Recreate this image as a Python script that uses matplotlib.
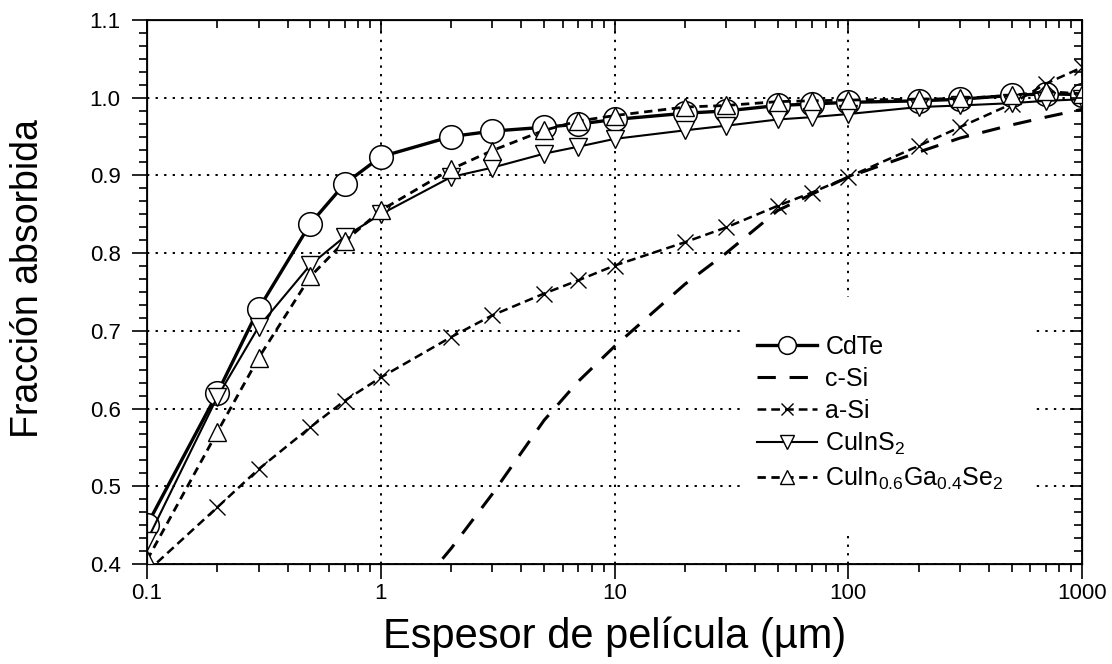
import matplotlib
matplotlib.use("Agg")
import matplotlib.pyplot as plt
from matplotlib.ticker import AutoMinorLocator, NullFormatter
from matplotlib.patches import Rectangle

plt.rcParams['font.family'] = ['Liberation Sans', 'DejaVu Sans']
plt.rcParams['mathtext.default'] = 'regular'

# espesor (um)
espesor = [0.1, 0.2, 0.3, 0.5, 0.7, 1, 2, 3, 5, 7, 10, 20, 30, 50, 70,
           100, 200, 300, 500, 700, 1000]

cdte = [0.45, 0.62, 0.728, 0.838, 0.889, 0.924, 0.950, 0.957, 0.962, 0.966,
        0.972, 0.980, 0.983, 0.990, 0.992, 0.994, 0.996, 0.998, 1.003, 1.005, 1.004]
cuins2 = [0.43, 0.615, 0.705, 0.785, 0.821, 0.850, 0.898, 0.910, 0.928, 0.937,
          0.947, 0.958, 0.964, 0.972, 0.975, 0.979, 0.988, 0.990, 0.993, 0.996, 0.998]
cigs = [0.405, 0.57, 0.665, 0.770, 0.815, 0.855, 0.908, 0.932, 0.958, 0.970,
        0.977, 0.988, 0.990, 0.995, 0.996, 0.997, 0.998, 0.999, 1.003, 1.008, 1.005]
asi = [0.39, 0.473, 0.522, 0.576, 0.610, 0.640, 0.692, 0.720, 0.748, 0.765,
       0.784, 0.814, 0.833, 0.861, 0.878, 0.898, 0.938, 0.962, 0.992, 1.018, 1.039]

# c-Si sin marcadores
espesor_csi = [1.5, 2, 3, 5, 7, 10, 20, 30, 50, 70, 100, 200, 300, 500, 700, 1000]
csi = [0.375, 0.42, 0.49, 0.585, 0.635, 0.68, 0.76, 0.80, 0.855, 0.876,
       0.898, 0.930, 0.948, 0.965, 0.975, 0.985]

x_ticks = [0.1, 1, 10, 100, 1000]
x_labels = ["0.1", "1", "10", "100", "1000"]
y_ticks = [0.4, 0.5, 0.6, 0.7, 0.8, 0.9, 1.0, 1.1]

fig = plt.figure(figsize=(11.12, 6.64), dpi=100)
ax = fig.add_axes([147 / 1112, 1 - 564 / 664, 935 / 1112, 544 / 664])
ax.set_axisbelow(True)

ax.plot(espesor, cdte, color='black', lw=2.4, marker='o', ms=17,
        mfc='white', mec='black', mew=1.1, label='CdTe', zorder=3)
ax.plot(espesor_csi, csi, color='black', lw=2.2, linestyle=(0, (6, 4.5)),
        label='c-Si', zorder=3)
ax.plot(espesor, asi, color='black', lw=1.8, linestyle=(0, (3.5, 2)),
        marker='x', ms=12, mew=1.0, label='a-Si', zorder=3)
ax.plot(espesor, cuins2, color='black', lw=1.5, marker='v', ms=13,
        mfc='white', mec='black', mew=1.0, label='CuInS$_2$', zorder=4)
ax.plot(espesor, cigs, color='black', lw=2.0, linestyle=(0, (3, 2)),
        marker='^', ms=13, mfc='white', mec='black', mew=1.0,
        label='CuIn$_{0.6}$Ga$_{0.4}$Se$_2$', zorder=5)

ax.set_xscale('log')
ax.set_xlim(0.1, 1000)
ax.set_ylim(0.4, 1.1)
ax.set_xticks(x_ticks)
ax.set_xticklabels(x_labels)
ax.xaxis.set_minor_formatter(NullFormatter())
ax.set_yticks(y_ticks)
ax.set_yticklabels([f"{v:.1f}" for v in y_ticks])
ax.yaxis.set_minor_locator(AutoMinorLocator(6))

ax.grid(True, which='major', color='black', lw=1.4, linestyle=(0, (1.2, 3.2)))

ax.tick_params(which='both', direction='out', width=1.2, labelsize=16, color='black')
ax.tick_params(which='major', length=11)
ax.tick_params(which='minor', length=6)
ax.tick_params(axis='x', which='major', pad=3)
ax.tick_params(axis='y', which='major', pad=8)
for s in ax.spines.values():
    s.set_linewidth(1.3)

# ejes espejo con marcas hacia dentro
ax_top = ax.twiny()
ax_top.set_xscale('log')
ax_top.set_xlim(0.1, 1000)
ax_top.set_xticks(x_ticks)
ax_top.tick_params(which='both', direction='in', labeltop=False, width=1.2)
ax_top.tick_params(which='major', length=9)
ax_top.tick_params(which='minor', length=6)
ax_top.xaxis.set_minor_formatter(NullFormatter())

ax_right = ax.twinx()
ax_right.set_ylim(0.4, 1.1)
ax_right.set_yticks(y_ticks)
ax_right.yaxis.set_minor_locator(AutoMinorLocator(6))
ax_right.tick_params(which='both', direction='in', labelright=False, width=1.2)
ax_right.tick_params(which='major', length=9)
ax_right.tick_params(which='minor', length=6)

# fondo blanco de la leyenda
ax.add_patch(Rectangle((0.637, 0.0625), 0.313, 0.428, transform=ax.transAxes,
                       facecolor='white', edgecolor='none', zorder=1))

leg = ax.legend(loc='center left', bbox_to_anchor=(0.652, 0.277), frameon=False,
                fontsize=18, handlelength=2.4, handletextpad=0.35,
                labelspacing=0.32, borderpad=0, borderaxespad=0, markerscale=0.75)
leg.set_zorder(6)

ax.set_xlabel("Espesor de película (µm)", fontsize=30, labelpad=9)
ax.set_ylabel("Fracción absorbida", fontsize=27)
ax.yaxis.set_label_coords(-0.108, 0.524)

fig.savefig("out.png", dpi=100)
